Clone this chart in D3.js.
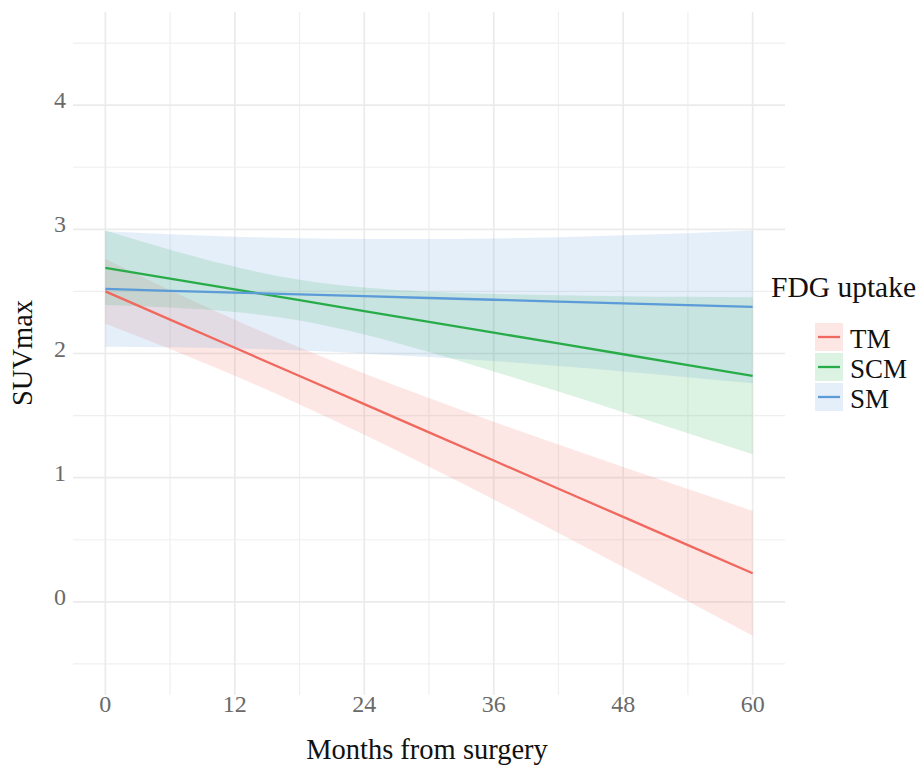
<!DOCTYPE html>
<html>
<head>
<meta charset="utf-8">
<script src="https://cdn.jsdelivr.net/npm/d3@7"></script>
<style>
  html, body { margin: 0; padding: 0; background: #fff; }
  svg { display: block; font-family: "Liberation Serif", "Times New Roman", serif; }
</style>
</head>
<body>
<svg id="chart" width="921" height="765"></svg>
<script>
// fitted SUVmax trend per group, every 6 months
const months = [0, 6, 12, 18, 24, 30, 36, 42, 48, 54, 60];
const groups = ["TM", "SCM", "SM"];

const tmFit   = [2.500, 2.273, 2.046, 1.819, 1.592, 1.365, 1.138, 0.911, 0.684, 0.457, 0.230];
const tmUpper = [2.760, 2.509, 2.271, 2.048, 1.839, 1.641, 1.451, 1.267, 1.087, 0.909, 0.733];
const tmLower = [2.240, 2.037, 1.821, 1.590, 1.345, 1.089, 0.825, 0.555, 0.281, 0.005, -0.273];

const scmFit   = [2.690, 2.603, 2.516, 2.429, 2.342, 2.255, 2.168, 2.081, 1.994, 1.907, 1.820];
const scmUpper = [2.990, 2.836, 2.698, 2.593, 2.531, 2.498, 2.480, 2.469, 2.462, 2.456, 2.452];
const scmLower = [2.390, 2.370, 2.334, 2.265, 2.153, 2.012, 1.856, 1.693, 1.526, 1.358, 1.188];

const smFit   = [2.520, 2.505, 2.491, 2.476, 2.462, 2.447, 2.433, 2.418, 2.404, 2.389, 2.375];
const smUpper = [2.985, 2.960, 2.941, 2.928, 2.923, 2.922, 2.927, 2.937, 2.952, 2.969, 2.990];
const smLower = [2.055, 2.051, 2.041, 2.024, 2.001, 1.972, 1.939, 1.899, 1.856, 1.809, 1.760];

const xMajor = [0, 12, 24, 36, 48, 60];
const xMinor = [6, 18, 30, 42, 54];
const yMajor = [0, 1, 2, 3, 4];
const yMinor = [-0.5, 0.5, 1.5, 2.5, 3.5, 4.5];

const colors = { TM: "#F0685E", SCM: "#27AC48", SM: "#5B9BD8" };

const series = [
  { key: "TM",  fit: tmFit,  lo: tmLower,  hi: tmUpper },
  { key: "SCM", fit: scmFit, lo: scmLower, hi: scmUpper },
  { key: "SM",  fit: smFit,  lo: smLower,  hi: smUpper }
].map(s => ({
  key: s.key,
  pts: months.map((m, i) => ({ m, fit: s.fit[i], lo: s.lo[i], hi: s.hi[i] }))
}));

const svg = d3.select("#chart");
const panel = { left: 73, right: 785, top: 12, bottom: 695 };

const x = d3.scaleLinear().domain([-3, 63]).range([panel.left, panel.right]);
const y = d3.scaleLinear().domain([-0.75, 4.75]).range([panel.bottom, panel.top]);

// grid
const grid = svg.append("g").attr("class", "grid");
grid.selectAll("line.hminor").data(yMinor).join("line")
  .attr("x1", panel.left).attr("x2", panel.right)
  .attr("y1", d => y(d)).attr("y2", d => y(d))
  .attr("stroke", "#efefef").attr("stroke-width", 1.2);
grid.selectAll("line.vminor").data(xMinor).join("line")
  .attr("x1", d => x(d)).attr("x2", d => x(d))
  .attr("y1", panel.top).attr("y2", panel.bottom)
  .attr("stroke", "#efefef").attr("stroke-width", 1.2);
grid.selectAll("line.hmajor").data(yMajor).join("line")
  .attr("x1", panel.left).attr("x2", panel.right)
  .attr("y1", d => y(d)).attr("y2", d => y(d))
  .attr("stroke", "#ebebeb").attr("stroke-width", 1.7);
grid.selectAll("line.vmajor").data(xMajor).join("line")
  .attr("x1", d => x(d)).attr("x2", d => x(d))
  .attr("y1", panel.top).attr("y2", panel.bottom)
  .attr("stroke", "#ebebeb").attr("stroke-width", 1.7);

// ribbons
const area = d3.area()
  .x(d => x(d.m))
  .y0(d => y(d.lo))
  .y1(d => y(d.hi))
  .curve(d3.curveMonotoneX);

svg.append("g").selectAll("path").data(series).join("path")
  .attr("d", d => area(d.pts))
  .attr("fill", d => colors[d.key])
  .attr("fill-opacity", 0.16);

// fitted lines
const line = d3.line().x(d => x(d.m)).y(d => y(d.fit));
svg.append("g").selectAll("path").data(series).join("path")
  .attr("d", d => line(d.pts))
  .attr("fill", "none")
  .attr("stroke", d => colors[d.key])
  .attr("stroke-width", 2.3);

// axes (text only, minimal theme)
const tickColor = "#6a6a6a";
svg.append("g").selectAll("text").data(xMajor).join("text")
  .attr("x", d => x(d)).attr("y", 712)
  .attr("text-anchor", "middle")
  .attr("font-size", 24).attr("fill", tickColor)
  .text(d => d);

svg.append("g").selectAll("text").data(yMajor).join("text")
  .attr("x", 66).attr("y", d => y(d) + 3)
  .attr("text-anchor", "end")
  .attr("font-size", 24).attr("fill", tickColor)
  .text(d => d);

svg.append("text")
  .attr("x", 427).attr("y", 759)
  .attr("text-anchor", "middle").attr("font-size", 28.5).attr("fill", "#111")
  .text("Months from surgery");

svg.append("text")
  .attr("transform", `translate(32,353) rotate(-90)`)
  .attr("text-anchor", "middle").attr("font-size", 28.5).attr("fill", "#111")
  .text("SUVmax");

// legend
const legend = svg.append("g");
legend.append("text")
  .attr("x", 771).attr("y", 297)
  .attr("font-size", 29.5).attr("fill", "#111")
  .text("FDG uptake");

const keys = legend.selectAll("g.key").data(groups).join("g")
  .attr("class", "key")
  .attr("transform", (d, i) => `translate(815,${323 + i * 30})`);
keys.append("rect")
  .attr("width", 28).attr("height", 28)
  .attr("fill", d => colors[d]).attr("fill-opacity", 0.16);
keys.append("line")
  .attr("x1", 3).attr("x2", 25).attr("y1", 14).attr("y2", 14)
  .attr("stroke", d => colors[d]).attr("stroke-width", 2.3);
keys.append("text")
  .attr("x", 35).attr("y", 25)
  .attr("font-size", 27).attr("fill", "#111")
  .text(d => d);
</script>
</body>
</html>
